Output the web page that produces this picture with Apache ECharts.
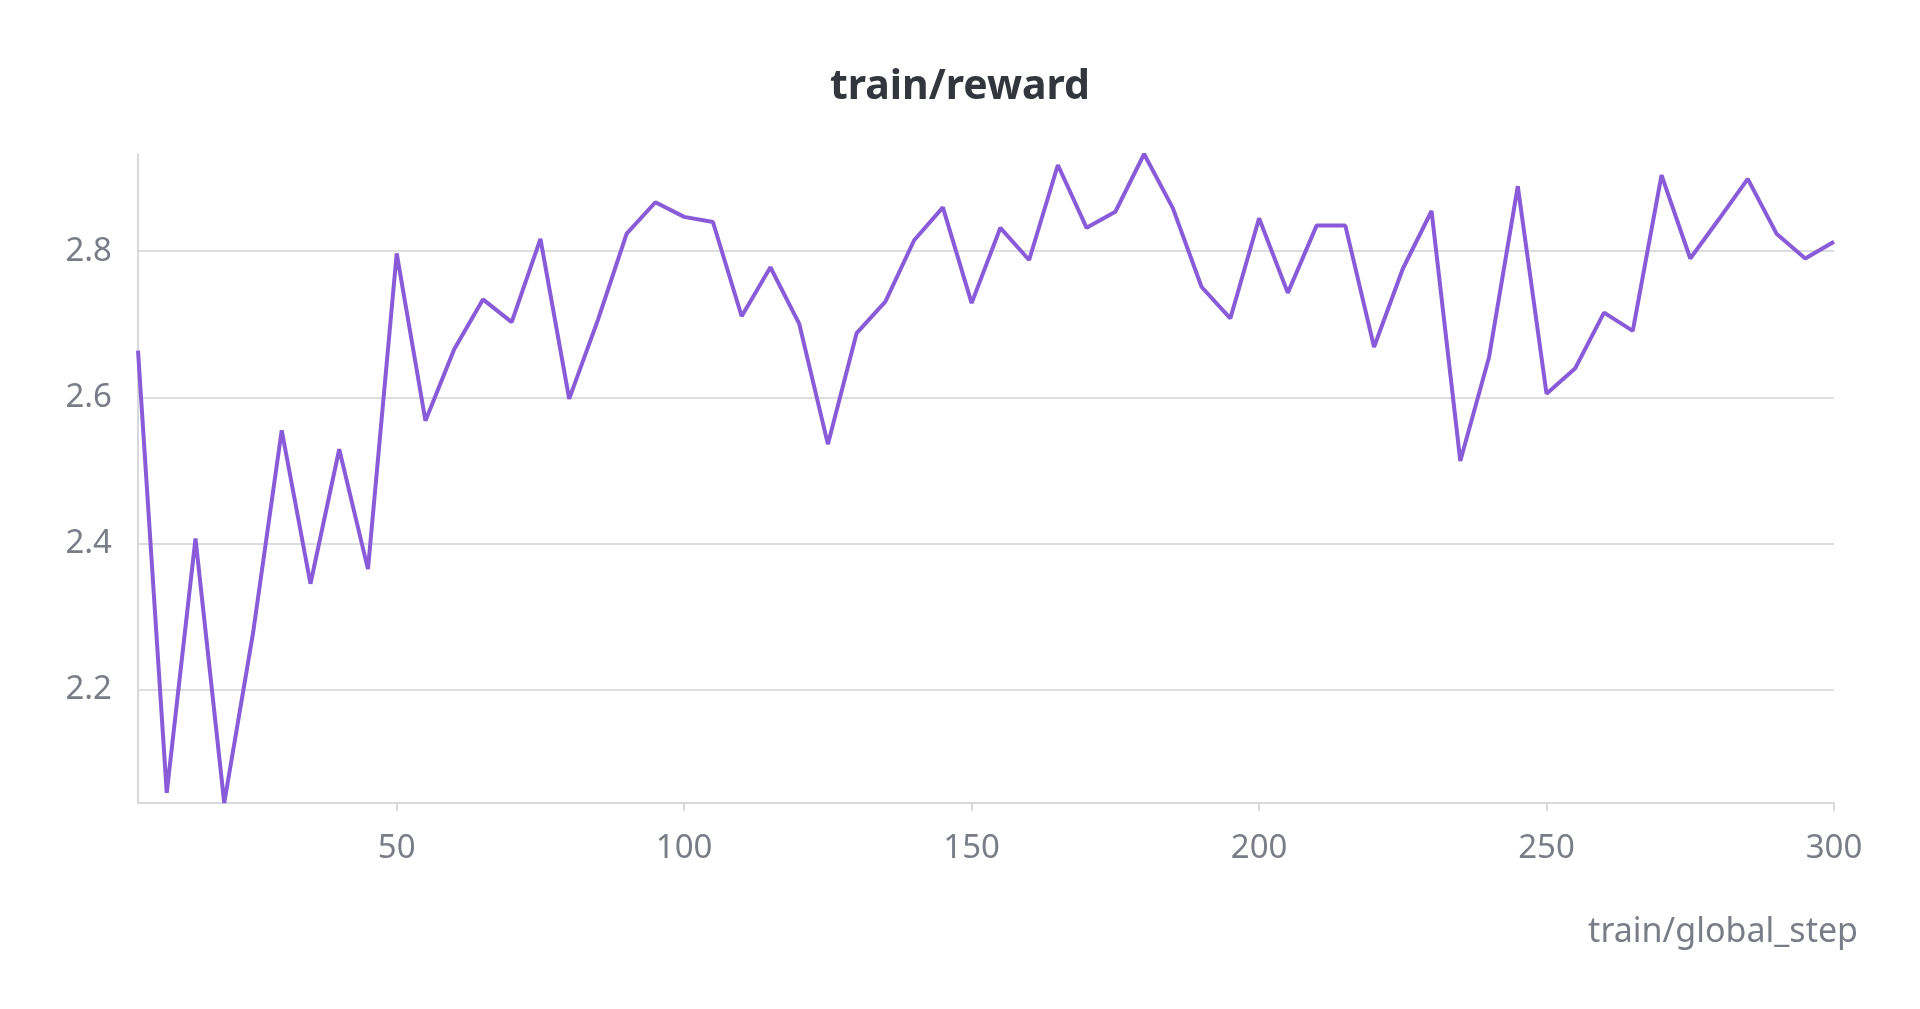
<!DOCTYPE html>
<html><head><meta charset="utf-8">
<script src="https://cdn.jsdelivr.net/npm/echarts@6/dist/echarts.min.js"></script>
<style>html,body{margin:0;padding:0;background:#fff}#c{width:1920px;height:1009px}</style>
</head><body><div id="c"></div>
<script>
const steps = [5,10,15,20,25,30,35,40,45,50,55,60,65,70,75,80,85,90,95,100,105,110,115,120,125,130,135,140,145,150,155,160,165,170,175,180,185,190,195,200,205,210,215,220,225,230,235,240,245,250,255,260,265,270,275,280,285,290,295,300];
const reward = [2.664,2.059,2.407,2.045,2.277,2.555,2.345,2.529,2.365,2.797,2.568,2.666,2.734,2.703,2.817,2.598,2.706,2.824,2.867,2.847,2.840,2.711,2.778,2.701,2.536,2.688,2.731,2.815,2.860,2.729,2.832,2.788,2.918,2.832,2.854,2.933,2.859,2.751,2.708,2.845,2.743,2.835,2.835,2.669,2.776,2.855,2.513,2.655,2.889,2.605,2.640,2.716,2.691,2.904,2.790,2.844,2.899,2.824,2.790,2.813];
const xTicks = [50,100,150,200,250,300];
const yTicks = [2.2,2.4,2.6,2.8];
const font = 'Noto Sans';
const chart = echarts.init(document.getElementById('c'));
chart.setOption({
  animation:false,
  title:{text:'train/reward',left:'center',top:62,textStyle:{fontFamily:font,fontSize:41,fontWeight:'bold',color:'#33363d'}},
  grid:{left:138,right:86,top:154,bottom:206},
  xAxis:{type:'value',min:5,max:300,name:'train/global_step',nameLocation:'end',
    nameGap:0,nameTextStyle:{fontFamily:font,fontSize:34,color:'#7a7d87',align:'right',verticalAlign:'top',padding:[112,-24,0,0]},
    axisLine:{lineStyle:{color:'#d8d9dc',width:2}},
    axisTick:{show:true,customValues:xTicks,length:8,lineStyle:{color:'#d8d9dc',width:2}},
    axisLabel:{customValues:xTicks,fontFamily:font,fontSize:33,color:'#7a7d87',margin:29},
    splitLine:{show:false}},
  yAxis:{type:'value',min:2.045,max:2.933,
    axisLine:{show:true,lineStyle:{color:'#d8d9dc',width:2}},
    axisTick:{show:false,customValues:yTicks},
    axisLabel:{customValues:yTicks,fontFamily:font,fontSize:33,color:'#7a7d87',margin:26,formatter:v=>v.toFixed(1)},
    splitLine:{show:true,lineStyle:{color:'#dcdde0',width:2}}},
  series:[{type:'line',data:steps.map((s,i)=>[s,reward[i]]),showSymbol:false,
    lineStyle:{color:'#8a5bd9',width:4},itemStyle:{color:'#8a5bd9'}}]
});
</script></body></html>
